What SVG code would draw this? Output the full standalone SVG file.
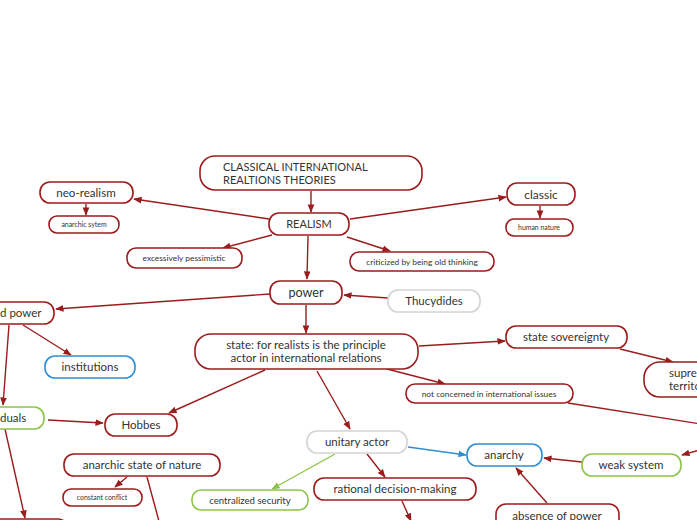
<svg xmlns="http://www.w3.org/2000/svg" width="697" height="520" viewBox="0 0 697 520">
<style>
.n rect{fill:#fff;stroke:#9a1c1c;stroke-width:1.6}
.b rect{stroke:#2f8fd3}
.g rect{stroke:#8cc449}
.y rect{stroke:#d3d3d3}
text{font-family:Lato,"Open Sans","Liberation Sans",sans-serif;fill:#333;text-anchor:middle}
.t10{font-size:11.5px}
.tu{font-size:11px}
.t9{font-size:9.6px}
.t7{font-size:8.4px}
.t6{font-size:6.9px}
.t11{font-size:11.6px}
.t12{font-size:12.6px}
#c path{fill:none;stroke:#9a1c1c;stroke-width:1.4}
#c .bl{stroke:#2f8fd3}
#c .gr{stroke:#8cc449}
</style>
<defs>
<marker id="a" viewBox="0 0 10 10" refX="9" refY="5" markerWidth="6" markerHeight="6" orient="auto"><path d="M0,1 L10,5 L0,9 z" fill="#9a1c1c"/></marker>
<marker id="ab" viewBox="0 0 10 10" refX="9" refY="5" markerWidth="6" markerHeight="6" orient="auto"><path d="M0,1 L10,5 L0,9 z" fill="#2f8fd3"/></marker>
<marker id="ag" viewBox="0 0 10 10" refX="9" refY="5" markerWidth="6" markerHeight="6" orient="auto"><path d="M0,1 L10,5 L0,9 z" fill="#8cc449"/></marker>
</defs>
<rect width="697" height="520" fill="#fff"/>
<g id="c">
<path d="M311,191 L311,212" marker-end="url(#a)"/>
<path d="M269,219 L134,199" marker-end="url(#a)"/>
<path d="M350,219 L506,197" marker-end="url(#a)"/>
<path d="M272,235 L223,248" marker-end="url(#a)"/>
<path d="M347,237 L390,251" marker-end="url(#a)"/>
<path d="M308,236 L307,279" marker-end="url(#a)"/>
<path d="M86,204 L86,215" marker-end="url(#a)"/>
<path d="M540,206 L540,218" marker-end="url(#a)"/>
<path d="M270,294 L56,309" marker-end="url(#a)"/>
<path d="M388,298 L344,295" marker-end="url(#a)"/>
<path d="M306,305 L306,333" marker-end="url(#a)"/>
<path d="M419,346 L505,341" marker-end="url(#a)"/>
<path d="M620,349 L673,362" marker-end="url(#a)"/>
<path d="M387,369 L445,384" marker-end="url(#a)"/>
<path d="M568,403 L720,427"/>
<path d="M720,444 L682,455" marker-end="url(#a)"/>
<path d="M582,462 L544,458" marker-end="url(#a)"/>
<path d="M547,503 L516,468" marker-end="url(#a)"/>
<path class="bl" d="M408,447 L466,455" marker-end="url(#ab)"/>
<path class="gr" d="M335,454 L272,489" marker-end="url(#ag)"/>
<path d="M367,454 L385,477" marker-end="url(#a)"/>
<path d="M402,501 L411,521" marker-end="url(#a)"/>
<path d="M317,371 L350,429" marker-end="url(#a)"/>
<path d="M265,370 L169,413" marker-end="url(#a)"/>
<path d="M48,420 L103,423" marker-end="url(#a)"/>
<path d="M9,325 L3,405" marker-end="url(#a)"/>
<path d="M23,325 L71,355" marker-end="url(#a)"/>
<path d="M5,429 L25,518" marker-end="url(#a)"/>
<path d="M127,477 L115,487" marker-end="url(#a)"/>
<path d="M147,477 L160,525"/>
</g>
<g id="classical" class="n"><rect x="200" y="156" width="222" height="34" rx="15"/><text class="tu" x="223" y="171" style="text-anchor:start">CLASSICAL INTERNATIONAL</text><text class="tu" x="223" y="184" style="text-anchor:start">REALTIONS THEORIES</text></g>
<g id="realism" class="n"><rect x="269" y="213" width="80" height="22" rx="10"/><text class="tu" x="309" y="228">REALISM</text></g>
<g id="neorealism" class="n"><rect x="40" y="182" width="93" height="21" rx="10"/><text class="t11" x="86" y="196.5">neo-realism</text></g>
<g id="anarchicsytem" class="n"><rect x="49" y="216" width="70" height="17" rx="8"/><text class="t6" x="84" y="227">anarchic sytem</text></g>
<g id="pessimistic" class="n"><rect x="127" y="248" width="115" height="20" rx="9"/><text class="t7" x="184" y="261">excessively pessimistic</text></g>
<g id="criticized" class="n"><rect x="350" y="252" width="144" height="19" rx="9"/><text class="t7" x="422" y="264.5">criticized by being old thinking</text></g>
<g id="classic" class="n"><rect x="507" y="183" width="68" height="22" rx="10"/><text class="t11" x="541" y="198.5" style="font-size:12px">classic</text></g>
<g id="humannature" class="n"><rect x="506" y="219" width="67" height="17" rx="8"/><text class="t6" x="539" y="230">human nature</text></g>
<g id="power" class="n"><rect x="270" y="281" width="72" height="23" rx="10"/><text class="t12" x="306" y="296.5">power</text></g>
<g id="thucydides" class="n y"><rect x="388" y="290" width="92" height="22" rx="10"/><text class="t10" x="434" y="305">Thucydides</text></g>
<g id="state" class="n"><rect x="195" y="334" width="223" height="35" rx="16"/><text class="t10" x="306" y="349">state: for realists is the principle</text><text class="t10" x="306" y="362">actor in international relations</text></g>
<g id="dpower" class="n"><rect x="-60" y="302" width="114" height="22" rx="10"/><text class="t10" x="0" y="317" style="text-anchor:start">d power</text></g>
<g id="institutions" class="n b"><rect x="45" y="356" width="90" height="22" rx="10"/><text class="t10" x="90" y="371">institutions</text></g>
<g id="individuals" class="n g"><rect x="-60" y="407" width="104" height="22" rx="10"/><text class="t10" x="0" y="422" style="text-anchor:start">duals</text></g>
<g id="hobbes" class="n"><rect x="105" y="414" width="72" height="22" rx="10"/><text class="t10" x="141" y="429">Hobbes</text></g>
<g id="anarchicstate" class="n"><rect x="64" y="454" width="156" height="22" rx="10"/><text class="t10" x="142" y="469">anarchic state of nature</text></g>
<g id="conflict" class="n"><rect x="63" y="489" width="79" height="17" rx="8"/><text class="t6" x="102" y="500">constant conflict</text></g>
<g id="bottomleft" class="n"><rect x="-60" y="519" width="128" height="22" rx="10"/></g>
<g id="centralized" class="n g"><rect x="192" y="490" width="116" height="20" rx="9"/><text class="t9" x="250" y="503.5">centralized security</text></g>
<g id="unitary" class="n y"><rect x="307" y="431" width="100" height="22" rx="10"/><text class="t10" x="357" y="446">unitary actor</text></g>
<g id="rational" class="n"><rect x="314" y="478" width="162" height="22" rx="10"/><text class="t10" x="395" y="493">rational decision-making</text></g>
<g id="anarchy" class="n b"><rect x="467" y="444" width="75" height="22" rx="10"/><text class="t10" x="504" y="459">anarchy</text></g>
<g id="weaksystem" class="n g"><rect x="582" y="454" width="99" height="22" rx="10"/><text class="t10" x="631" y="469">weak system</text></g>
<g id="absence" class="n"><rect x="496" y="504" width="123" height="30" rx="10"/><text class="t10" x="557" y="519.5">absence of power</text></g>
<g id="sovereignty" class="n"><rect x="506" y="326" width="121" height="22" rx="10"/><text class="t10" x="566" y="341">state sovereignty</text></g>
<g id="supreme" class="n"><rect x="644" y="362" width="120" height="35" rx="16"/><text class="t10" x="669" y="377" style="text-anchor:start">supreme</text><text class="t10" x="669" y="390" style="text-anchor:start">territory</text></g>
<g id="notconcerned" class="n"><rect x="406" y="384" width="167" height="19" rx="9"/><text class="t7" x="489" y="396.5">not concerned in international issues</text></g>
</svg>
